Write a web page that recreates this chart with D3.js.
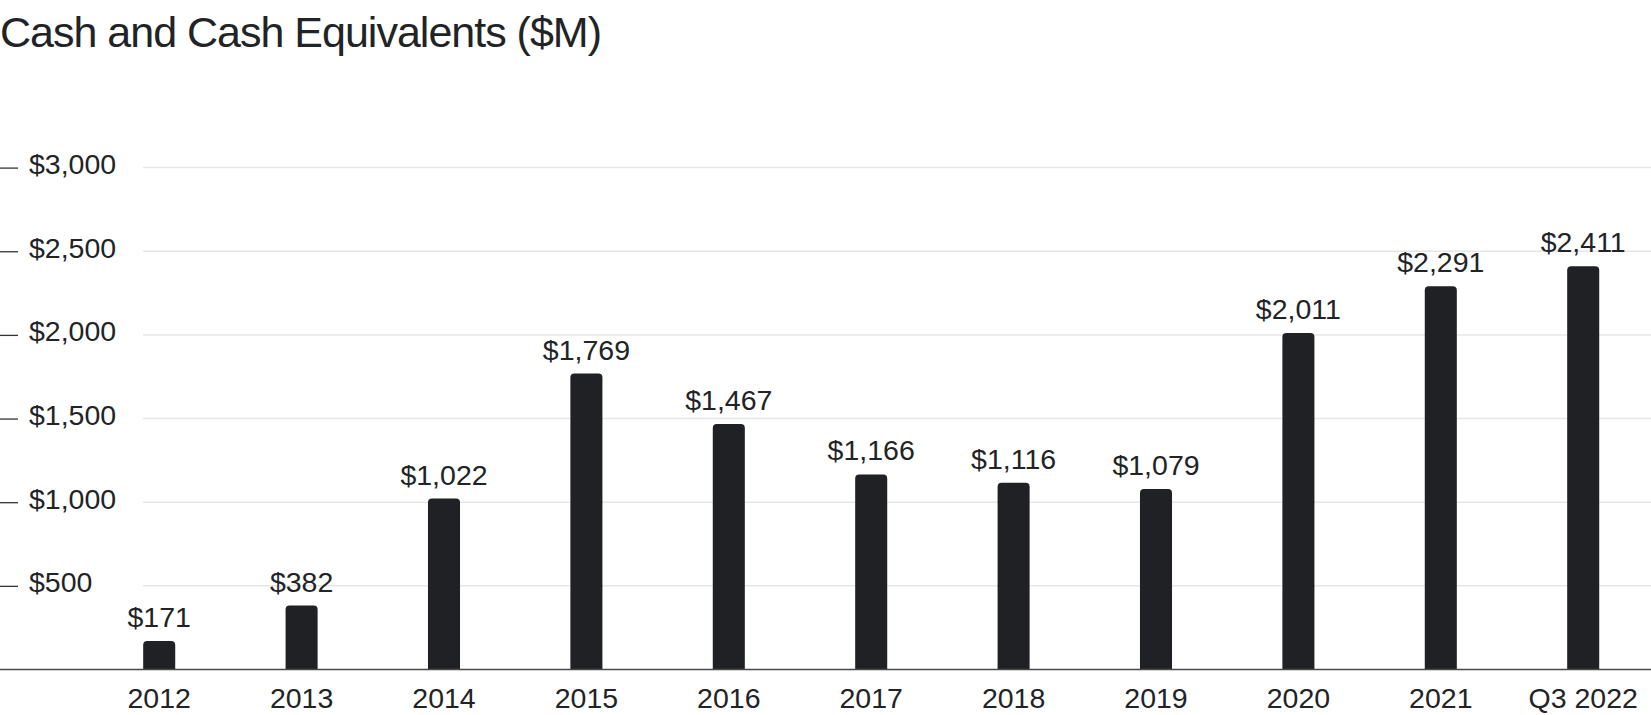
<!DOCTYPE html>
<html>
<head>
<meta charset="utf-8">
<script src="https://cdn.jsdelivr.net/npm/d3@7"></script>
<style>
  html, body { margin: 0; padding: 0; background: #ffffff; }
  svg { display: block; }
  text { font-family: "Liberation Sans", Arial, sans-serif; fill: #212326; }
</style>
</head>
<body>
<svg id="chart" width="1651" height="715"></svg>
<script>
const categories = ["2012", "2013", "2014", "2015", "2016", "2017", "2018", "2019", "2020", "2021", "Q3 2022"];
const cashValues = [171, 382, 1022, 1769, 1467, 1166, 1116, 1079, 2011, 2291, 2411];
const yTicks = [500, 1000, 1500, 2000, 2500, 3000];
const titleText = "Cash and Cash Equivalents ($M)";

const W = 1651, H = 715;
const svg = d3.select("#chart");

const x = d3.scaleBand()
  .domain(categories)
  .range([88, 1654.4])
  .paddingInner(0.775)
  .paddingOuter(0.3875);

const y = d3.scaleLinear()
  .domain([0, 3000])
  .range([669.5, 167.6]);

const fmt = v => "$" + d3.format(",")(v);

// title
svg.append("text")
  .attr("x", 0)
  .attr("y", 47)
  .attr("font-size", 43)
  .attr("letter-spacing", -1)
  .text(titleText);

// gridlines
svg.append("g")
  .selectAll("line")
  .data(yTicks)
  .join("line")
  .attr("x1", 143)
  .attr("x2", W)
  .attr("y1", d => y(d))
  .attr("y2", d => y(d))
  .attr("stroke", "#e6e6e6")
  .attr("stroke-width", 1.5);

// y axis: small dashes at left + labels
const yAxis = svg.append("g")
  .attr("transform", "translate(18,0)")
  .call(d3.axisLeft(y).tickValues(yTicks).tickSize(18).tickPadding(0).tickFormat(fmt));
yAxis.select(".domain").remove();
yAxis.selectAll(".tick line").attr("stroke", "#333").attr("stroke-width", 1.3);
yAxis.selectAll(".tick text")
  .attr("text-anchor", "start")
  .attr("x", 11)
  .attr("dy", null)
  .attr("y", 6)
  .attr("font-family", "Liberation Sans, Arial, sans-serif")
  .attr("font-size", 28.5)
  .attr("fill", "#212326");

// bars with rounded top corners
const r = 4;
function barPath(d, i) {
  const x0 = x(categories[i]), w = x.bandwidth();
  const yt = y(d), yb = y(0);
  return `M${x0},${yb} L${x0},${yt + r} Q${x0},${yt} ${x0 + r},${yt} L${x0 + w - r},${yt} Q${x0 + w},${yt} ${x0 + w},${yt + r} L${x0 + w},${yb} Z`;
}
svg.append("g")
  .selectAll("path")
  .data(cashValues)
  .join("path")
  .attr("d", barPath)
  .attr("fill", "#1f2124");

// value labels
svg.append("g")
  .selectAll("text")
  .data(cashValues)
  .join("text")
  .attr("x", (d, i) => x(categories[i]) + x.bandwidth() / 2)
  .attr("y", d => y(d) - 14)
  .attr("text-anchor", "middle")
  .attr("font-size", 28.5)
  .text(d => fmt(d));

// x axis baseline + labels
const xAxis = svg.append("g")
  .attr("transform", `translate(0,${y(0)})`)
  .call(d3.axisBottom(x).tickSize(0).tickPadding(0));
xAxis.select(".domain").remove();
xAxis.selectAll(".tick text")
  .attr("dy", null)
  .attr("y", 38.5)
  .attr("font-family", "Liberation Sans, Arial, sans-serif")
  .attr("font-size", 28.5)
  .attr("fill", "#212326");

svg.append("line")
  .attr("x1", 0).attr("x2", W)
  .attr("y1", y(0)).attr("y2", y(0))
  .attr("stroke", "#4a4a4a")
  .attr("stroke-width", 1.5);
</script>
</body>
</html>
